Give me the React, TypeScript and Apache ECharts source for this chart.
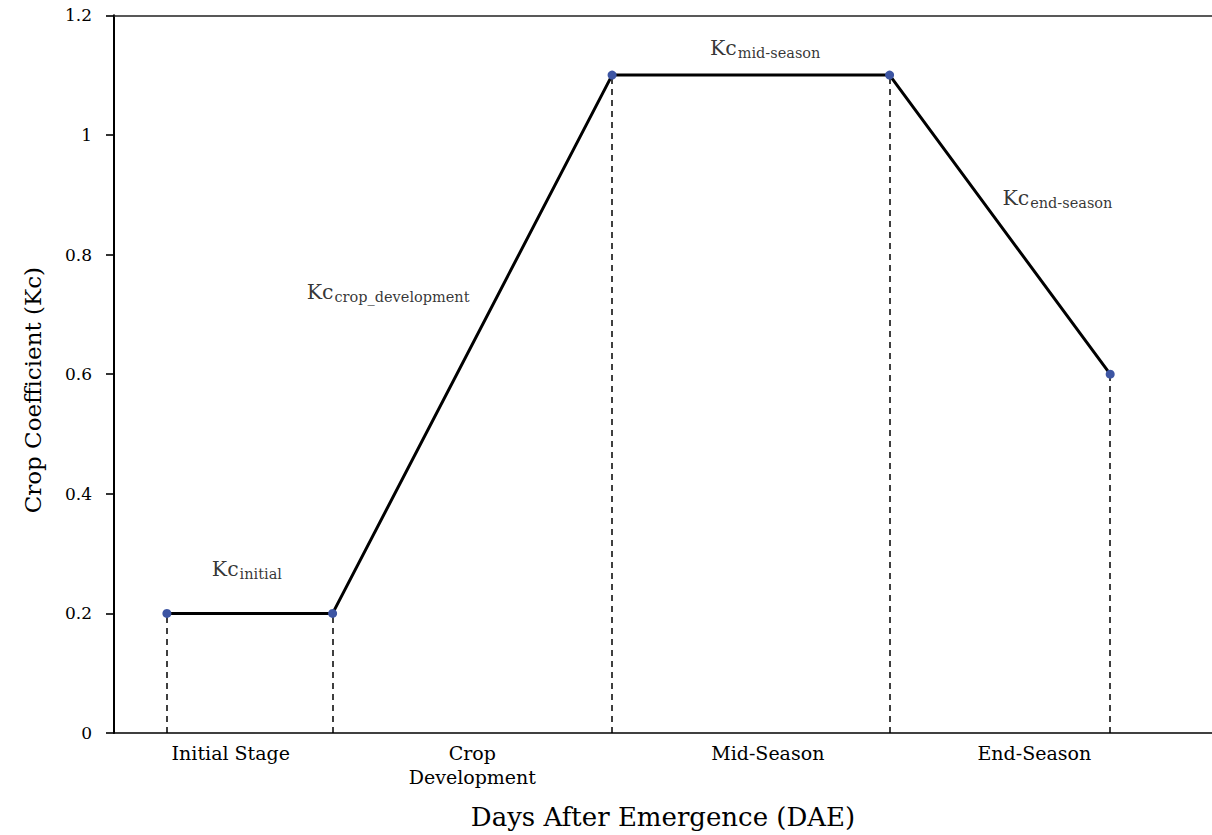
import React, { useEffect, useRef } from "react";
import * as echarts from "echarts";

// Stage boundary days and crop coefficients
const stageDays = [5.3, 21.9, 49.9, 77.7, 99.8];
const kcValues = [0.2, 0.2, 1.1, 1.1, 0.6];

// Stage names shown under the x axis and where they sit (days)
const stageNames = ["Initial Stage", "Crop\nDevelopment", "Mid-Season", "End-Season"];
const stageLabelDays = [11.7, 35.9, 65.5, 92.2];

// Kc annotation labels
const kcSubscripts = ["initial", "crop_development", "mid-season", "end-season"];
const kcLabelDays = [9.8, 19.3, 59.7, 89.0];
const kcLabelValues = [0.273, 0.736, 1.144, 0.894];

const FONT = "DejaVu Serif";

export default function App() {
  const ref = useRef<HTMLDivElement>(null);

  useEffect(() => {
    if (!ref.current) return;
    const chart = echarts.init(ref.current, null, { renderer: "svg" });

    const lineData = stageDays.map((d, i) => [d, kcValues[i]]);
    const dashData = stageDays.map((d, i) => [
      { coord: [d, 0] },
      { coord: [d, kcValues[i]] },
    ]);
    const annData = kcLabelDays.map((d, i) => ({
      value: [d, kcLabelValues[i]],
      label: { formatter: "{kc|Kc}{sub|" + kcSubscripts[i] + "}" },
    }));

    chart.setOption({
      animation: false,
      backgroundColor: "#ffffff",
      grid: { left: 114, right: 0, top: 15.3, bottom: 99.3, containLabel: false },
      xAxis: [
        {
          type: "value",
          min: 0,
          max: 110,
          position: "bottom",
          axisLine: { show: true, onZero: false, lineStyle: { color: "#000", width: 1.6 } },
          axisTick: { show: false },
          splitLine: { show: false },
          axisLabel: {
            show: true,
            customValues: stageLabelDays,
            formatter: (v: number) => {
              const idx = stageLabelDays.findIndex((s) => Math.abs(s - v) < 1e-6);
              return idx >= 0 ? stageNames[idx] : "";
            },
            margin: 8,
            fontFamily: FONT,
            fontSize: 19,
            lineHeight: 24,
            color: "#000",
          },
          name: "Days After Emergence (DAE)",
          nameLocation: "middle",
          nameGap: 71,
          nameTextStyle: { fontFamily: FONT, fontSize: 26, color: "#000" },
        },
        {
          type: "value",
          min: 0,
          max: 110,
          position: "top",
          axisLine: { show: true, onZero: false, lineStyle: { color: "#222", width: 1.6 } },
          axisTick: { show: false },
          axisLabel: { show: false },
          splitLine: { show: false },
        },
      ],
      yAxis: {
        type: "value",
        min: 0,
        max: 1.2,
        interval: 0.2,
        axisLine: { show: true, lineStyle: { color: "#000", width: 2 } },
        axisTick: { show: true, inside: false, length: 8, lineStyle: { color: "#000", width: 1.6 } },
        splitLine: { show: false },
        axisLabel: {
          margin: 22,
          fontFamily: FONT,
          fontSize: 17,
          color: "#000",
          formatter: (v: number) => String(Math.round(v * 10) / 10),
        },
        name: "Crop Coefficient (Kc)",
        nameLocation: "middle",
        nameGap: 70,
        nameTextStyle: { fontFamily: FONT, fontSize: 23, color: "#000", padding: [0, 32, 0, 0] },
      },
      series: [
        {
          type: "line",
          name: "Kc",
          xAxisIndex: 0,
          data: lineData,
          symbol: "circle",
          symbolSize: 9,
          showSymbol: true,
          itemStyle: { color: "#3D55A3" },
          lineStyle: { color: "#000", width: 3 },
          z: 3,
          markLine: {
            silent: true,
            symbol: ["none", "none"],
            label: { show: false },
            lineStyle: { color: "#000", width: 1.5, type: [6, 5] },
            data: dashData,
            z: 2,
          },
        },
        {
          type: "scatter",
          name: "labels",
          xAxisIndex: 0,
          data: annData,
          symbolSize: 0,
          silent: true,
          label: {
            show: true,
            position: "right",
            distance: 0,
            rich: {
              kc: { fontFamily: FONT, fontSize: 20.5, color: "#000", lineHeight: 22, verticalAlign: "top" },
              sub: {
                fontFamily: FONT,
                fontSize: 14.5,
                color: "#000",
                lineHeight: 22,
                verticalAlign: "top",
                padding: [8, 0, 0, 1],
              },
            },
          },
        },
      ],
    });

    return () => chart.dispose();
  }, []);

  return (
    <div
      ref={ref}
      style={{ position: "fixed", left: 0, top: 0, width: 1212, height: 835 }}
    />
  );
}
